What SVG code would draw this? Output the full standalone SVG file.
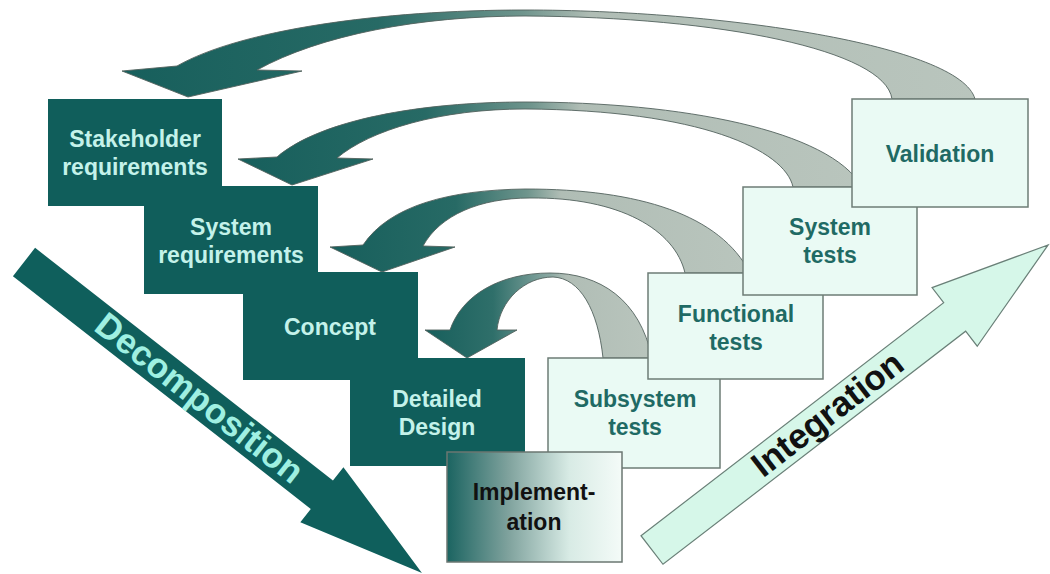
<svg xmlns="http://www.w3.org/2000/svg" width="1050" height="574" viewBox="0 0 1050 574">
  <defs>
    <style>
      .dark { fill: #105e5b; }
      .light { fill: #eafaf4; stroke: #6d7c76; stroke-width: 1.5; }
      .impl { fill: url(#implGrad); stroke: #6b7772; stroke-width: 1.5; }
      text { font-family: "Liberation Sans", Arial, sans-serif; font-weight: bold; text-anchor: middle; }
      .dt { fill: #c4f2ea; font-size: 23px; }
      .lt { fill: #1f6a64; font-size: 23px; }
      .it { fill: #111111; font-size: 23px; }
      .curve { stroke: #52625d; stroke-width: 0.9; }
      .big { font-size: 35px; }
    </style>
    <linearGradient id="implGrad" x1="0" y1="0" x2="1" y2="0">
      <stop offset="0" stop-color="#1b6461"/>
      <stop offset="0.35" stop-color="#7fa29d"/>
      <stop offset="0.7" stop-color="#d8ebe5"/>
      <stop offset="1" stop-color="#f4fbf8"/>
    </linearGradient>
    <linearGradient id="curveGrad" x1="0" y1="0" x2="1" y2="0">
      <stop offset="0" stop-color="#175f5c"/>
      <stop offset="0.3" stop-color="#276a65"/>
      <stop offset="0.47" stop-color="#6f958d"/>
      <stop offset="0.55" stop-color="#b0bdb5"/>
      <stop offset="1" stop-color="#b9c5bd"/>
    </linearGradient>
    <linearGradient id="curveGrad4" x1="0" y1="0" x2="1" y2="0">
      <stop offset="0" stop-color="#175f5c"/>
      <stop offset="0.3" stop-color="#2f6f6a"/>
      <stop offset="0.55" stop-color="#8aa8a2"/>
      <stop offset="0.62" stop-color="#b0bdb5"/>
      <stop offset="1" stop-color="#b9c5bd"/>
    </linearGradient>
  </defs>
  <rect width="1050" height="574" fill="#ffffff"/>

  <g id="connectors">
    <path id="arc-validation" class="curve" fill="url(#curveGrad)" d="M 177,66 C 240,30 380,10 525,10 C 720,10 960,45 975,99 L 892,99 C 885,50 720,17 525,16 C 420,16 320,35 257,70 L 302,71 L 188,97 L 122,71 Z"/>
    <path id="arc-systemtests" class="curve" fill="url(#curveGrad)" d="M 277,157 C 320,120 420,102 525,102 C 680,102 830,130 862,187 L 793,187 C 785,150 700,110 525,109 C 440,109 370,130 337,158 L 373,159 L 292,185 L 238,159 Z"/>
    <path id="arc-functional" class="curve" fill="url(#curveGrad)" d="M 363,245 C 390,205 450,190 525,189 C 640,189 720,215 750,273 L 685,273 C 675,230 620,197 530,198 C 480,198 440,215 423,246 L 455,247 L 382,272 L 330,247 Z"/>
    <path id="arc-subsystem" class="curve" fill="url(#curveGrad4)" d="M 450,330 C 462,295 500,273 550,273 C 600,273 640,300 652,358 L 603,358 C 598,310 580,278 553,277 C 525,277 500,300 497,330 L 517,330 L 467,358 L 425,330 Z"/>
  </g>

  <g id="decomposition" transform="translate(24,262) rotate(38)">
    <polygon points="0,-18 378,-18 378,-35 505,0 378,35 378,18 0,18" fill="#0f5f5c"/>
    <text class="big" x="222" y="11" fill="#9ff0e2">Decomposition</text>
  </g>

  <g id="integration" transform="translate(652,550) rotate(-37.6)">
    <polygon points="0,-18 382,-18 382,-37 500,0 382,37 382,18 0,18" fill="#d6f7e9" stroke="#6a8078" stroke-width="1.2"/>
    <text class="big" x="222" y="11" fill="#111111">Integration</text>
  </g>

  <g id="stakeholder">
    <rect class="dark" x="48" y="99" width="174" height="107"/>
    <text class="dt" x="135" y="147">Stakeholder</text>
    <text class="dt" x="135" y="175">requirements</text>
  </g>
  <g id="sysreq">
    <rect class="dark" x="144" y="186" width="174" height="108"/>
    <text class="dt" x="231" y="235">System</text>
    <text class="dt" x="231" y="263">requirements</text>
  </g>
  <g id="concept">
    <rect class="dark" x="243" y="272" width="175" height="108"/>
    <text class="dt" x="330" y="335">Concept</text>
  </g>
  <g id="detailed">
    <rect class="dark" x="350" y="358" width="175" height="108"/>
    <text class="dt" x="437" y="407">Detailed</text>
    <text class="dt" x="437" y="435">Design</text>
  </g>

  <g id="subsystem">
    <rect class="light" x="548" y="358" width="172" height="110"/>
    <text class="lt" x="635" y="407">Subsystem</text>
    <text class="lt" x="635" y="435">tests</text>
  </g>
  <g id="functional">
    <rect class="light" x="648" y="273" width="175" height="106"/>
    <text class="lt" x="736" y="322">Functional</text>
    <text class="lt" x="736" y="350">tests</text>
  </g>
  <g id="systests">
    <rect class="light" x="743" y="187" width="174" height="108"/>
    <text class="lt" x="830" y="235">System</text>
    <text class="lt" x="830" y="263">tests</text>
  </g>
  <g id="validation">
    <rect class="light" x="852" y="99" width="176" height="108"/>
    <text class="lt" x="940" y="162">Validation</text>
  </g>

  <g id="implementation">
    <rect class="impl" x="447" y="452" width="175" height="110"/>
    <text class="it" x="534" y="500">Implement-</text>
    <text class="it" x="534" y="530">ation</text>
  </g>
</svg>
